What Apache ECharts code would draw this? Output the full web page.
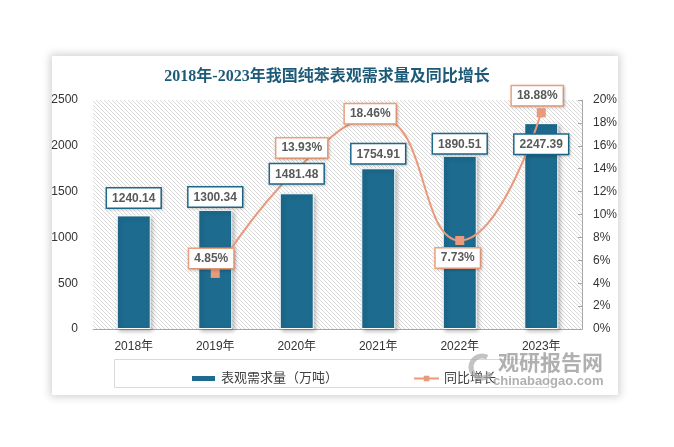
<!DOCTYPE html>
<html><head><meta charset="utf-8">
<script src="https://cdn.jsdelivr.net/npm/echarts@6/dist/echarts.min.js"></script>
<style>
html,body{margin:0;padding:0;background:#fff;width:674px;height:447px;overflow:hidden;}
#panel{position:absolute;left:52px;top:56px;width:566px;height:339px;background:#fff;box-shadow:0 0 8px 2px rgba(0,0,0,0.18);}
#chart{position:absolute;left:0;top:0;width:674px;height:447px;}
</style></head>
<body>
<div id="panel"></div>
<div id="chart"></div>
<script>
const categories = ['2018年','2019年','2020年','2021年','2022年','2023年'];
const demand = [1240.14, 1300.34, 1481.48, 1754.91, 1890.51, 2247.39];
const growth = [null, 4.85, 13.93, 18.46, 7.73, 18.88];
const leftTicks = [0, 2500, 500];
const rightTicks = [0, 20, 2];

// layout (not data)
const barLabelOffsets = [[0,-3],[0,1.5],[0,-5],[0,0],[0,2.5],[0,35.5]];
const lineLabelOffsets = [[0,0],[-4,-15],[5,-21.5],[-8,-4],[-2,17.5],[-4,-17]];

const BAR = '#1d6b8e', LINE = '#e99a7a', LINEB = '#f0a27f';
const FONT = "'Liberation Sans','Noto Sans CJK SC',sans-serif";

const c = document.createElement('canvas'); c.width = 4; c.height = 4;
const g = c.getContext('2d'); g.fillStyle = '#fff'; g.fillRect(0,0,4,4);
g.strokeStyle = '#dadada'; g.lineWidth = 1;
g.beginPath(); g.moveTo(0,0); g.lineTo(4,4); g.moveTo(-1,3); g.lineTo(1,5); g.moveTo(3,-1); g.lineTo(5,1); g.stroke();

const chart = echarts.init(document.getElementById('chart'), null, {renderer:'canvas'});
const labelBox = (border) => ({
  show: true, backgroundColor: '#fff', borderColor: border, borderWidth: 1.5,
  padding: [4,5,3,5], color: '#595959', fontWeight: 'bold', fontSize: 12, fontFamily: FONT,
  shadowColor: 'rgba(0,0,0,0.2)', shadowBlur: 3, shadowOffsetX: 1, shadowOffsetY: 1
});

chart.setOption({
  animation: false,
  title: {
    text: '2018年-2023年我国纯苯表观需求量及同比增长', left: 322, top: 64, textAlign: 'center',
    textStyle: {fontSize: 16, fontWeight: 'bold', color: '#1d5a78', fontFamily: "'Liberation Serif','Noto Sans CJK SC',serif"}
  },
  grid: {left: 93, right: 92, top: 100, bottom: 118, show: true, borderWidth: 0,
    backgroundColor: {image: c, repeat: 'repeat'}},
  legend: {
    left: 185, top: 367, itemWidth: 25, itemHeight: 7, itemGap: 75,
    textStyle: {fontSize: 13, color: '#404040', fontFamily: FONT},
    data: [{name: '表观需求量（万吨）', icon: 'rect'}, {name: '同比增长'}]
  },
  graphic: [
    {type: 'rect', shape: {x: 114.5, y: 359.5, width: 434, height: 28}, style: {fill: 'none', stroke: '#d9d9d9', lineWidth: 1}, silent: true},
    {type: 'text', x: 498, y: 352, style: {text: '观研报告网', fontSize: 21, fontWeight: 'bold', fill: 'rgba(150,150,150,0.75)', fontFamily: "'Noto Sans CJK SC',sans-serif"}, silent: true, z: 100},
    {type: 'text', x: 493, y: 375, style: {text: 'chinabaogao.com', fontSize: 13, fontWeight: 'bold', fill: 'rgba(150,150,150,0.75)', fontFamily: FONT}, silent: true, z: 100},
    {type: 'arc', shape: {cx: 482, cy: 367, r: 11, startAngle: 0.6, endAngle: 5.2}, style: {stroke: 'rgba(170,170,170,0.7)', lineWidth: 5, fill: 'none'}, silent: true, z: 100}
  ],
  xAxis: {
    type: 'category', data: categories,
    axisLine: {lineStyle: {color: '#a6a6a6', width: 1}}, axisTick: {show: false},
    axisLabel: {fontSize: 12, color: '#333', margin: 12, fontFamily: FONT}
  },
  yAxis: [
    {type: 'value', min: leftTicks[0], max: leftTicks[1], interval: leftTicks[2],
     axisLine: {show: false}, axisTick: {show: false}, splitLine: {show: false},
     axisLabel: {fontSize: 12, color: '#333', margin: 15, fontFamily: FONT, formatter: (v) => String(v)}},
    {type: 'value', min: rightTicks[0], max: rightTicks[1], interval: rightTicks[2], position: 'right',
     axisLine: {show: true, lineStyle: {color: '#a6a6a6'}}, axisTick: {show: true, inside: true, length: 4, lineStyle: {color: '#a6a6a6'}},
     splitLine: {show: false},
     axisLabel: {fontSize: 12, color: '#333', margin: 11, fontFamily: FONT, formatter: '{value}%'}}
  ],
  series: [
    {name: '表观需求量（万吨）', type: 'bar', barWidth: 34, yAxisIndex: 0, z: 2,
     itemStyle: {color: BAR, borderColor: '#fff', borderWidth: 1, shadowColor: 'rgba(0,0,0,0.25)', shadowBlur: 4, shadowOffsetX: 2, shadowOffsetY: 2},
     data: demand},
    {name: '同比增长', type: 'line', yAxisIndex: 1, smooth: 0.5, symbol: 'rect', symbolSize: 9, z: 3,
     lineStyle: {color: LINE, width: 2}, itemStyle: {color: LINE},
     data: growth.map((v, i) => v == null ? null : ({value: v, label: Object.assign(labelBox(LINEB), {position: 'inside', offset: lineLabelOffsets[i], formatter: (p) => p.value.toFixed(2) + '%'})}))},
    {name: 'barLabels', type: 'bar', barWidth: 34, barGap: '-100%', yAxisIndex: 0, z: 4, silent: true,
     itemStyle: {color: 'rgba(0,0,0,0)'},
     data: demand.map((v, i) => ({value: v, label: Object.assign(labelBox(BAR), {position: 'top', distance: 5, offset: barLabelOffsets[i], formatter: (p) => p.value.toFixed(2)})}))}
  ]
});
</script>
</body></html>
